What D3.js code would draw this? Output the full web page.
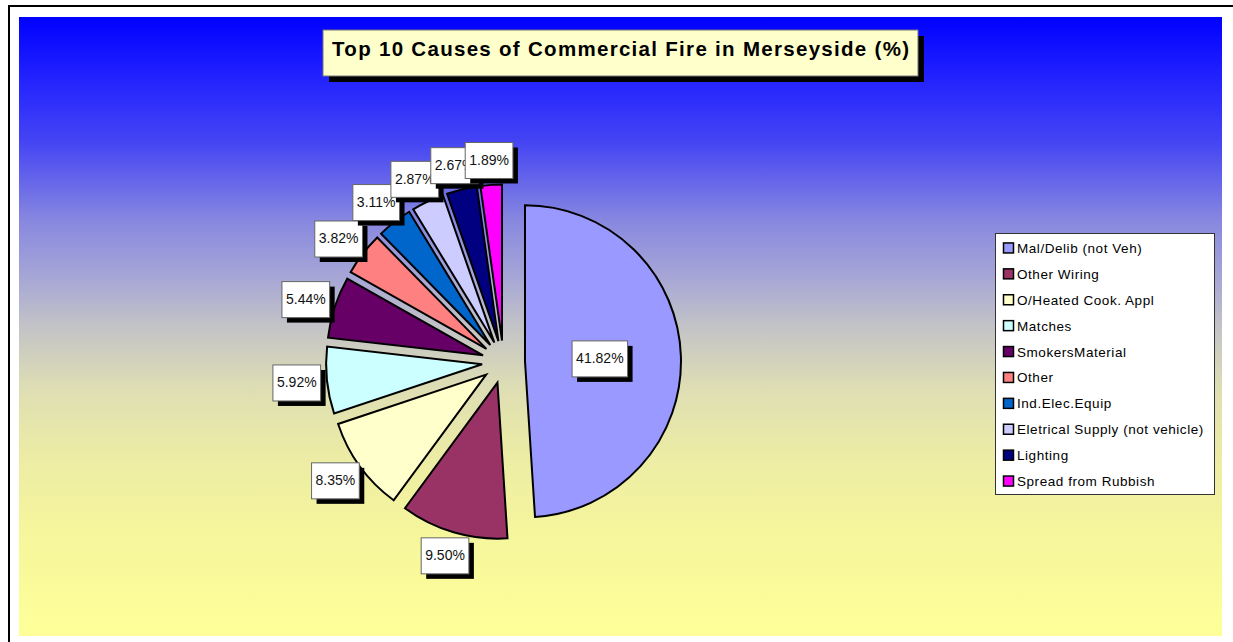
<!DOCTYPE html>
<html>
<head>
<meta charset="utf-8">
<script src="https://cdn.jsdelivr.net/npm/d3@7"></script>
<style>
  body { margin: 0; background: #fff; }
  svg { display: block; font-family: Arial, "Liberation Sans", sans-serif; }
</style>
</head>
<body>
<div class="chart"></div>
<script>
// top 10 causes of commercial fire - values as printed on the slices (%)
const causes = ["Mal/Delib (not Veh)", "Other Wiring", "O/Heated Cook. Appl", "Matches",
    "SmokersMaterial", "Other", "Ind.Elec.Equip", "Eletrical Supply (not vehicle)",
    "Lighting", "Spread from Rubbish"];
const shares = [41.82, 9.50, 8.35, 5.92, 5.44, 3.82, 3.11, 2.87, 2.67, 1.89];
const colours = ["#9999FF", "#993366", "#FFFFCC", "#CCFFFF", "#660066",
    "#FF8080", "#0066CC", "#CCCCFF", "#000080", "#FF00FF"];
const title = "Top 10 Causes of Commercial Fire in Merseyside (%)";

function draw(){
    const width = 1233, height = 642;
    const plot = {left:19, top:17, right:1222, bottom:636};
    const cx = 503.5, cy = 362, radius = 156, explode = 21.5;

    const rows = causes.map((c,i)=>({cause:c, value:shares[i]}));

    const svg = d3.select('.chart').append('svg')
        .attr("width", width)
        .attr("height", height);

    // background gradient blue -> pale yellow
    const grad = svg.append("defs").append("linearGradient")
        .attr("id", "bg")
        .attr("x1", 0).attr("y1", 0).attr("x2", 0).attr("y2", 1);
    [[0,"#0000FF"],[0.1,"#2323FF"],[0.2,"#4444F4"],[0.33,"#8888E0"],[0.42,"#A6A6D6"],
     [0.5,"#C3C3C7"],[0.6,"#DEDEB4"],[0.7,"#EBEBA6"],[0.82,"#F5F59D"],[1,"#FFFF99"]]
        .forEach(s=>grad.append("stop").attr("offset", s[0]).attr("stop-color", s[1]));

    // outer frame
    svg.append("rect")
        .attr("x", 9).attr("y", 6)
        .attr("width", width + 20).attr("height", height + 20)
        .attr("fill", "#fff")
        .attr("stroke", "#000")
        .attr("stroke-width", 2);

    svg.append("rect")
        .attr("x", plot.left).attr("y", plot.top)
        .attr("width", plot.right - plot.left)
        .attr("height", plot.bottom - plot.top)
        .attr("fill", "url(#bg)");

    // title box with drop shadow
    const tg = svg.append("g");
    tg.append("text")
        .attr("x", (plot.left + plot.right)/2)
        .attr("y", 56)
        .attr("text-anchor", "middle")
        .attr("textLength", 577)
        .attr("lengthAdjust", "spacing")
        .style("font-size", "20.5px")
        .style("font-weight", "bold")
        .attr("fill", "#000")
        .text(title);
    const tw = 595, th = 46, tx = (plot.left + plot.right)/2 - tw/2, ty = 30;
    tg.insert("rect", "text")
        .attr("x", tx + 6).attr("y", ty + 6)
        .attr("width", tw).attr("height", th)
        .attr("fill", "#000");
    tg.insert("rect", "text")
        .attr("x", tx).attr("y", ty)
        .attr("width", tw).attr("height", th)
        .attr("fill", "#FFFFCC")
        .attr("stroke", "#777")
        .attr("stroke-width", 1);

    const colorScale = d3.scaleOrdinal()
        .domain(causes)
        .range(colours);

    const arcs = d3.pie()
        .sort(null)
        .value(d=>d.value)(rows);

    const arc = d3.arc()
        .innerRadius(0)
        .outerRadius(radius);

    const mid = d=>(d.startAngle + d.endAngle)/2;

    const pieG = svg.append("g")
        .attr("transform", `translate(${cx},${cy})`);

    pieG.selectAll("path")
        .data(arcs)
        .enter()
        .append("path")
        .attr("d", arc)
        .attr("transform", d=>`translate(${Math.sin(mid(d))*explode},${-Math.cos(mid(d))*explode})`)
        .attr("fill", d=>colorScale(d.data.cause))
        .attr("stroke", "#000")
        .attr("stroke-width", 2);

    // data labels: big slice inside, the rest just outside the slice end
    const labels = pieG.selectAll(".label")
        .data(arcs)
        .enter()
        .append("g")
        .attr("class", "label");

    labels.each(function(d){
        const g = d3.select(this);
        const t = g.append("text")
            .attr("text-anchor", "middle")
            .attr("y", 4.5)
            .style("font-size", "14px")
            .attr("fill", "#111")
            .text(d3.format(".2f")(d.data.value) + "%");
        const w = t.node().getComputedTextLength() + 8, h = 36;
        const a = mid(d), sx = Math.sin(a), sy = -Math.cos(a);
        let px, py;
        if ((d.endAngle - d.startAngle) > Math.PI/2) {
            px = sx*(explode + radius*0.48);
            py = sy*(explode + radius*0.48);
        } else {
            px = sx*184 + sx*w/2;
            py = sy*184 + sy*h/2;
        }
        g.attr("transform", `translate(${px},${py})`);
        g.insert("rect", "text")
            .attr("x", -w/2 + 5).attr("y", -h/2 + 5)
            .attr("width", w).attr("height", h)
            .attr("fill", "#000");
        g.insert("rect", "text")
            .attr("x", -w/2).attr("y", -h/2)
            .attr("width", w).attr("height", h)
            .attr("fill", "#fff")
            .attr("stroke", "#666")
            .attr("stroke-width", 1);
    });

    // legend
    const legend = svg.append("g").attr("id", "legend");
    legend.append("rect")
        .attr("x", 995.5).attr("y", 233.5)
        .attr("width", 219).attr("height", 261)
        .attr("fill", "#fff")
        .attr("stroke", "#333")
        .attr("stroke-width", 1);

    const rowScale = d3.scaleBand()
        .domain(causes)
        .range([235, 494]);

    legend.selectAll(".swatch")
        .data(causes)
        .enter()
        .append("rect")
        .attr("class", "swatch")
        .attr("x", 1003.5)
        .attr("y", d=>rowScale(d) + rowScale.bandwidth()/2 - 5)
        .attr("width", 10)
        .attr("height", 10)
        .attr("fill", d=>colorScale(d))
        .attr("stroke", "#000")
        .attr("stroke-width", 1.5);

    legend.selectAll(".ltext")
        .data(causes)
        .enter()
        .append("text")
        .attr("class", "ltext")
        .attr("x", 1017)
        .attr("y", d=>rowScale(d) + rowScale.bandwidth()/2 + 5)
        .style("font-size", "13.5px")
        .style("letter-spacing", "0.55px")
        .attr("fill", "#000")
        .text(d=>d);
}

draw();
</script>
</body>
</html>
